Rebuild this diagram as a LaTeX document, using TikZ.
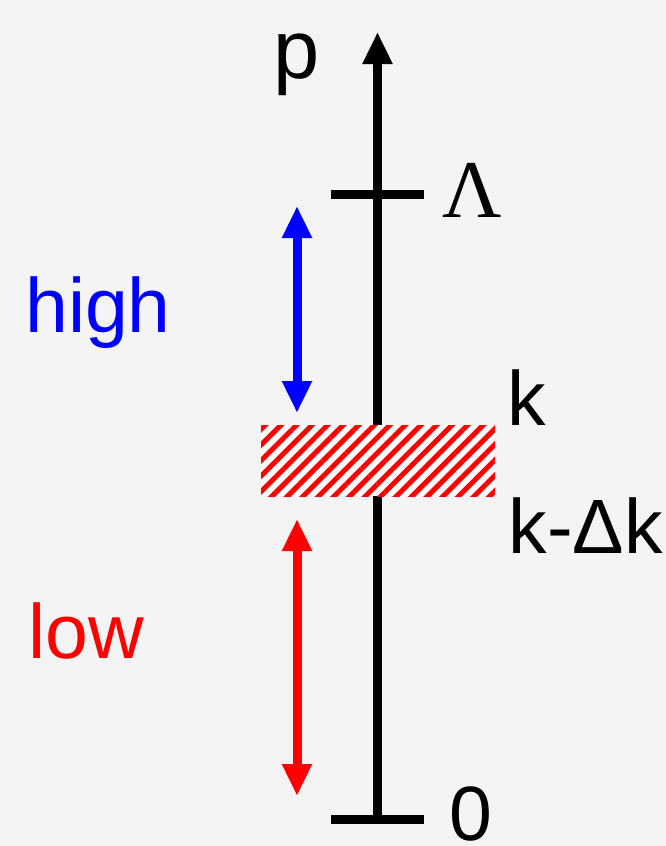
\documentclass[tikz,border=0pt]{standalone}
\usepackage{fontspec}
\setmainfont{Liberation Sans}
\newfontfamily\seriffont{Liberation Serif}
\usetikzlibrary{arrows.meta,patterns.meta}
\definecolor{bgcol}{HTML}{F4F4F4}
\tikzset{
  lbl/.style={anchor=base west, inner sep=0pt, font=\fontsize{77}{92}\selectfont},
  axisline/.style={line width=8.5pt, black},
  tickline/.style={line width=9pt, black},
  rangearrow/.style={line width=9pt, {Triangle[length=32pt,width=28pt]}-{Triangle[length=32pt,width=28pt]}},
}
\begin{document}
\begin{tikzpicture}[x=1pt,y=-1pt]
\fill[bgcol] (0,0) rectangle (666,846);
\useasboundingbox (0,0) rectangle (666,846);
% axis
\coordinate (axbot) at (377.5,819);
\coordinate (axtop) at (377.5,32);
\draw[axisline,-{Triangle[length=32pt,width=28pt]}] (axbot) -- (axtop);
% ticks
\coordinate (lamL) at (331,194);
\coordinate (lamR) at (424,194);
\draw[tickline] (lamL) -- (lamR);
\coordinate (zeroL) at (331,819);
\coordinate (zeroR) at (424,819);
\draw[tickline] (zeroL) -- (zeroR);
% hatched band
\node[inner sep=0pt, minimum width=234pt, minimum height=71pt, fill=white,
      postaction={pattern={Lines[angle=45,distance=11pt,line width=5pt]}, pattern color=red}]
      (band) at (378,460.5) {};
% range arrows
\coordinate (hiTop) at (297,206);
\coordinate (hiBot) at (297,413);
\draw[rangearrow, blue] (hiBot) -- (hiTop);
\coordinate (loTop) at (297,519);
\coordinate (loBot) at (297,796);
\draw[rangearrow, red] (loBot) -- (loTop);
% labels
\node[lbl, font=\fontsize{83}{100}\selectfont] (plbl) at (273,78) {p};
\node[lbl, font=\seriffont\fontsize{82}{98}\selectfont] (lamlbl) at (442,217) {Λ};
\node[lbl, text=blue] (highlbl) at (25,332) {high};
\node[lbl, text=red] (lowlbl) at (28.5,658) {low};
\node[lbl] (klbl) at (507.5,425) {k};
\node[lbl] (kdklbl) at (508.5,553) {k-Δk};
\node[lbl] (zerolbl) at (449,840.5) {0};
\end{tikzpicture}
\end{document}
